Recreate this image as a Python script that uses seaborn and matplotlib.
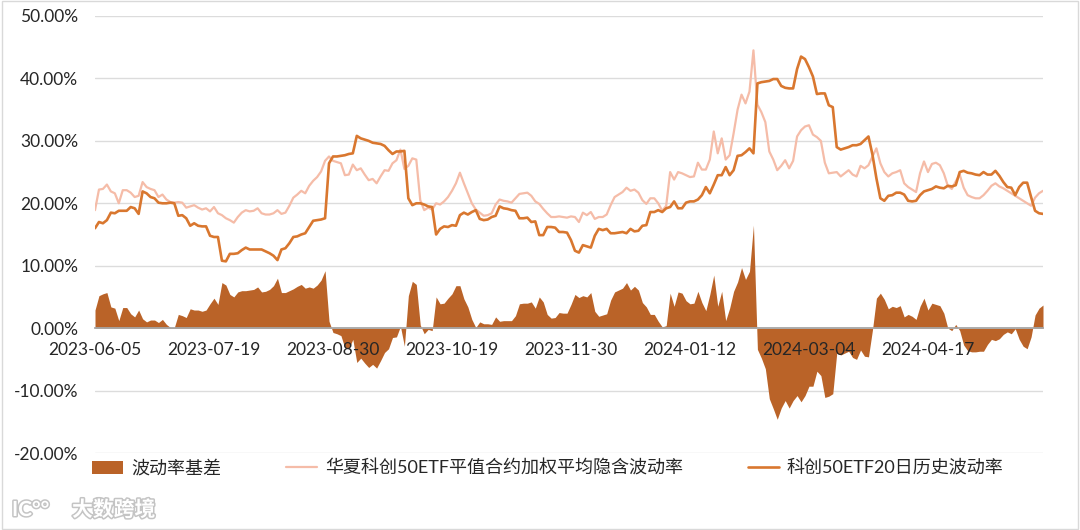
import numpy as np
import pandas as pd
import matplotlib
matplotlib.use("Agg")
import matplotlib.pyplot as plt
import seaborn as sns
from matplotlib.patches import Patch, Rectangle
from matplotlib.lines import Line2D
import matplotlib.patheffects as pe

# ---------------- data ----------------
tick_labels = ["2023-06-05", "2023-07-19", "2023-08-30", "2023-10-19",
               "2023-11-30", "2024-01-12", "2024-03-04", "2024-04-17"]
label_step = 30

hv_20d = [  # 科创50ETF20日历史波动率 (%)
    16.0, 17.0, 16.8, 17.3, 18.5, 18.4, 18.8, 18.8, 18.8, 19.4,
    19.2, 18.3, 21.9, 21.6, 21.0, 20.8, 20.1, 20.0, 20.0, 20.1,
    20.0, 18.0, 18.1, 17.6, 16.4, 16.8, 16.4, 16.3, 16.3, 14.8,
    14.6, 14.6, 10.8, 10.7, 11.9, 11.9, 12.0, 12.5, 12.9, 12.6,
    12.6, 12.6, 12.6, 12.3, 12.0, 11.6, 10.9, 12.6, 12.8, 13.6,
    14.6, 14.7, 15.0, 15.2, 16.2, 17.2, 17.3, 17.4, 17.6, 26.4,
    27.5, 27.5, 27.6, 27.7, 27.9, 28.0, 30.8, 30.4, 30.2, 30.0,
    29.7, 29.6, 29.5, 29.2, 28.5, 27.9, 28.3, 28.3, 28.4, 20.8,
    19.7, 20.0, 20.0, 19.8, 19.5, 19.4, 15.0, 15.9, 16.3, 16.2,
    16.5, 16.4, 18.1, 18.5, 18.2, 18.6, 18.9, 17.5, 17.3, 17.4,
    17.8, 18.0, 19.5, 19.2, 19.1, 18.9, 18.8, 17.6, 17.6, 17.7,
    17.0, 17.1, 14.9, 14.9, 16.2, 16.2, 16.1, 15.4, 15.4, 15.3,
    14.1, 12.4, 12.1, 13.3, 13.1, 12.9, 14.8, 15.9, 15.7, 15.9,
    15.2, 15.2, 15.3, 15.4, 15.2, 15.9, 15.5, 15.6, 16.4, 16.5,
    18.6, 18.6, 18.9, 18.6, 19.2, 19.4, 20.3, 19.2, 19.2, 20.1,
    20.3, 20.3, 20.6, 21.3, 22.6, 21.6, 23.0, 24.5, 24.5, 25.8,
    24.5, 25.3, 27.6, 27.7, 28.2, 28.8, 28.0, 39.2, 39.4, 39.5,
    39.6, 39.9, 39.9, 38.8, 38.5, 38.4, 38.4, 41.5, 43.5, 43.1,
    41.8, 40.3, 37.5, 37.6, 37.6, 35.7, 35.4, 29.0, 28.6, 28.8,
    29.0, 29.3, 29.3, 29.5, 30.1, 30.7, 27.8, 24.0, 20.8, 20.4,
    21.2, 21.3, 21.7, 21.7, 21.4, 20.4, 20.3, 20.4, 21.3, 21.9,
    22.1, 22.3, 22.7, 22.5, 22.4, 22.8, 22.7, 22.9, 25.0, 25.2,
    24.9, 24.8, 24.6, 24.5, 25.0, 24.6, 24.6, 25.2, 24.4, 23.4,
    22.6, 22.5, 21.3, 22.6, 23.3, 23.3, 21.0, 18.8, 18.4, 18.3,
]

iv_atm = [  # 华夏科创50ETF平值合约加权平均隐含波动率 (%)
    18.9, 22.2, 22.3, 23.0, 21.9, 21.6, 20.0, 22.1, 22.1, 21.7,
    21.0, 21.2, 23.4, 22.6, 22.3, 22.1, 21.0, 21.4, 20.6, 20.2,
    20.1, 20.2, 20.1, 19.3, 19.5, 19.7, 19.3, 19.0, 19.2, 18.7,
    19.4, 18.4, 18.1, 17.6, 17.3, 16.9, 17.8, 18.5, 18.9, 18.7,
    18.8, 19.2, 18.4, 18.2, 18.2, 18.4, 18.9, 18.3, 18.5, 19.6,
    20.9, 21.4, 22.0, 21.6, 22.8, 23.6, 24.2, 25.1, 26.8, 27.5,
    26.8, 26.6, 26.4, 24.5, 24.6, 26.2, 25.3, 25.6, 24.6, 23.7,
    23.9, 23.2, 24.3, 25.3, 25.2, 26.4, 26.9, 28.6, 25.5, 26.0,
    27.2, 27.0, 20.5, 18.9, 19.3, 19.0, 20.0, 19.8, 20.3, 21.0,
    22.0, 23.2, 24.9, 23.2, 21.6, 20.0, 19.0, 18.5, 18.0, 18.1,
    18.4, 19.8, 20.6, 20.4, 20.3, 20.1, 20.8, 21.5, 21.6, 21.7,
    21.2, 20.3, 19.9, 19.1, 18.4, 17.8, 17.8, 17.9, 17.8, 17.7,
    17.9, 17.8, 17.0, 18.5, 18.1, 18.6, 17.5, 17.8, 17.8, 18.2,
    19.7, 21.0, 21.4, 21.8, 22.5, 22.0, 22.2, 21.7, 20.5, 19.9,
    20.8, 20.8, 20.0, 18.8, 19.6, 25.0, 23.8, 25.0, 24.8, 24.5,
    24.2, 24.3, 26.5, 25.4, 25.4, 27.0, 31.5, 28.0, 30.4, 27.0,
    27.7, 31.2, 35.0, 37.4, 36.0, 37.9, 44.5, 35.8, 34.6, 33.0,
    28.3, 27.0, 25.3, 26.0, 26.9, 25.6, 26.8, 30.7, 31.7, 32.3,
    32.5, 31.0, 30.6, 30.0, 26.5, 24.8, 24.9, 25.0, 24.3, 24.8,
    25.3, 24.6, 24.3, 26.0, 25.6, 26.1, 27.5, 28.8, 26.4, 25.0,
    24.3, 24.8, 25.0, 25.3, 23.2, 22.6, 22.2, 21.8, 24.8, 26.7,
    25.0, 26.3, 26.5, 26.1, 24.8, 22.8, 22.3, 23.5, 24.6, 22.5,
    21.3, 21.0, 20.8, 20.8, 21.3, 22.0, 22.8, 23.2, 22.7, 22.4,
    22.0, 21.6, 21.2, 20.8, 20.4, 20.0, 19.6, 20.9, 21.6, 22.0,
]

name_basis = "波动率基差"
name_iv = "华夏科创50ETF平值合约加权平均隐含波动率"
name_hv = "科创50ETF20日历史波动率"

df = pd.DataFrame({"idx": np.arange(len(hv_20d)), "hv": hv_20d, "iv": iv_atm})
df["basis"] = df["iv"] - df["hv"]   # 波动率基差 = 隐含波动率 - 历史波动率

# ---------------- style ----------------
sns.set_theme(style="white")
plt.rcParams["font.family"] = ["Lato", "Noto Sans CJK SC", "DejaVu Sans"]

c_fill = "#BA6328"
c_hv = "#D9772F"
c_iv = "#F5BCA8"
c_grid = "#DCDCDC"
c_axis = "#A6A6A6"
c_text = "#262626"

fig = plt.figure(figsize=(10.8, 5.3), dpi=100)
ax = fig.add_axes([95 / 1080, 1 - 453 / 530, (1043 - 95) / 1080, (453 - 16) / 530])

ax.fill_between(df["idx"], df["basis"], 0, color=c_fill, lw=0, zorder=1)
sns.lineplot(data=df, x="idx", y="iv", ax=ax, color=c_iv, lw=1.6, legend=False, zorder=3)
sns.lineplot(data=df, x="idx", y="hv", ax=ax, color=c_hv, lw=1.9, legend=False, zorder=4)

ax.set_xlim(0, len(df) - 1)
ax.set_ylim(-20, 50)
ax.set_xlabel("")
ax.set_ylabel("")

yt = np.arange(-20, 51, 10)
ax.set_yticks(yt)
ax.set_yticklabels([f"{v:.2f}%" for v in yt], fontsize=12.5, color=c_text)
for v in yt:
    if v != 0:
        ax.axhline(v, color=c_grid, lw=1.0, zorder=0.5)

minor_pos = np.arange(0, len(df) - 1, 5)
ax.set_xticks(minor_pos)
ax.set_xticklabels(["" for _ in minor_pos])
lab_pos = np.arange(len(tick_labels)) * label_step
for p, t in zip(lab_pos, tick_labels):
    ax.text(p, -2.2, t, ha="center", va="top", fontsize=12.5, color=c_text, zorder=6)

for s in ["top", "right", "left"]:
    ax.spines[s].set_visible(False)
ax.spines["bottom"].set_position(("data", 0))
ax.spines["bottom"].set_color(c_axis)
ax.spines["bottom"].set_linewidth(1.3)
ax.spines["bottom"].set_zorder(5)
ax.tick_params(axis="x", direction="out", length=5, width=1.1, color=c_axis, pad=2)
ax.tick_params(axis="y", length=0, pad=12)
ax.xaxis.set_zorder(5)

handles = [
    Patch(facecolor=c_fill, edgecolor="none"),
    Line2D([], [], color=c_iv, lw=1.6),
    Line2D([], [], color=c_hv, lw=1.9),
]
fig.legend(handles, [name_basis, name_iv, name_hv], ncol=3, loc="center",
           bbox_to_anchor=(548 / 1080, 1 - 468 / 530), frameon=False,
           fontsize=13, handlelength=1.7, handletextpad=0.45, columnspacing=3.6,
           labelcolor=c_text)

fig.text(72 / 1080, 1 - 510 / 530, "大数跨境", fontsize=15, color="white",
         ha="left", va="center", fontweight="bold",
         path_effects=[pe.withStroke(linewidth=2.2, foreground="#C4C4C4")])
fig.text(12 / 1080, 1 - 510 / 530, "IC°°", fontsize=15, color="white",
         ha="left", va="center", fontweight="bold",
         path_effects=[pe.withStroke(linewidth=2.2, foreground="#C4C4C4")])

fig.patches.append(Rectangle((0.0015, 0.002), 0.997, 0.996, transform=fig.transFigure,
                             fill=False, edgecolor="#D9D9D9", lw=1.0))

fig.savefig("out.png", dpi=100, facecolor="white")
